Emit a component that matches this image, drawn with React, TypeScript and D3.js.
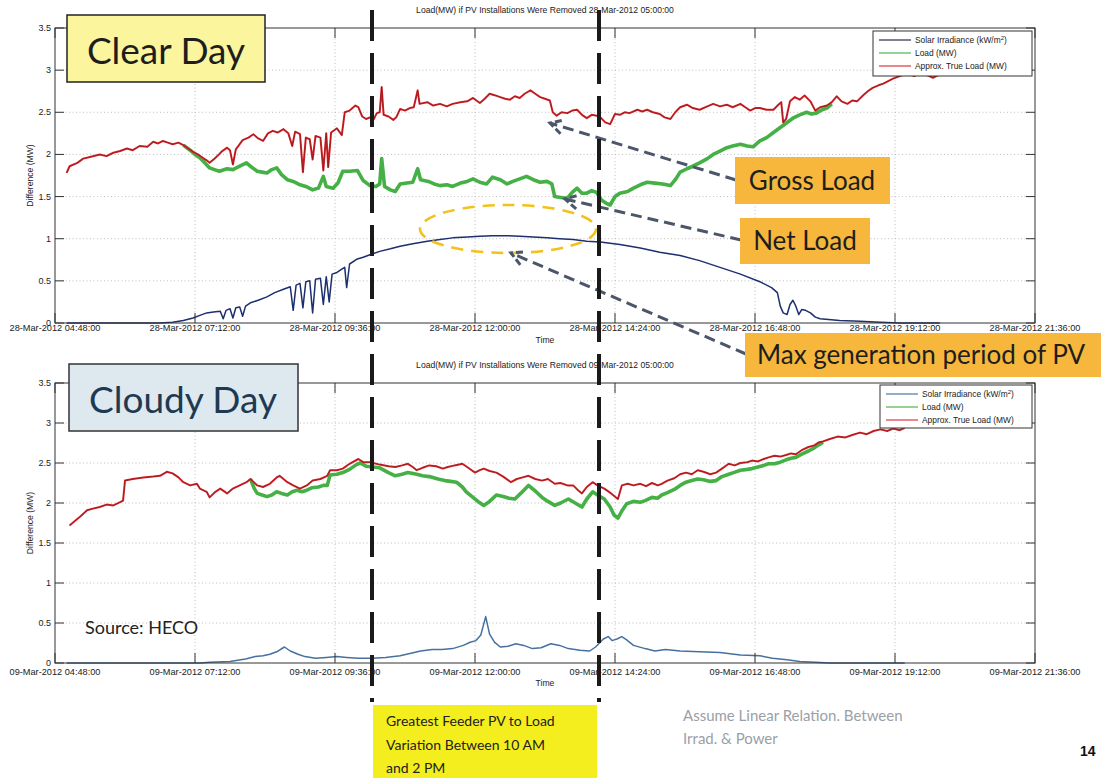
import React from 'react';
import * as d3 from 'd3';

// time = minutes since midnight, value = MW (or kW/m2)
const xTicks = [288, 432, 576, 720, 864, 1008, 1152, 1296];
const yTicks = [0, 0.5, 1, 1.5, 2, 2.5, 3, 3.5];
const legendLabels = ['Solar Irradiance (kW/m', 'Load (MW)', 'Approx. True Load (MW)'];

const clearTrueLoad: [number, number][] = [
  [300,1.78],[303,1.86],[311,1.9],[317,1.95],[324,1.97],[334,2.0],[341,1.98],[348,2.02],[355,2.04],[362,2.07],[368,2.05],[375,2.1],[383,2.09],[389,2.15],[394,2.13],[399,2.16],[404,2.14],[409,2.12],[415,2.14],[420,2.11],[425,2.07],[430,2.03],[435,2.0],[440,1.96],[444,1.93],[447,1.9],[452,1.95],[455,1.98],[460,2.04],[465,2.08],[468,2.05],[471,1.88],[474,2.06],[481,2.17],[487,2.2],[492,2.24],[497,2.19],[502,2.16],[507,2.25],[512,2.28],[517,2.26],[523,2.3],[528,2.25],[532,2.1],[535,2.27],[540,2.24],[543,1.79],[546,2.2],[550,2.18],[553,1.94],[556,2.22],[561,2.2],[564,1.81],[567,2.25],[569,1.85],[572,2.26],[578,2.31],[583,2.23],[586,2.5],[591,2.52],[597,2.58],[600,2.56],[604,2.45],[608,2.42],[612,2.44],[616,2.42],[619,2.49],[622,2.5],[624,2.8],[626,2.47],[631,2.45],[636,2.41],[639,2.44],[643,2.54],[648,2.52],[653,2.55],[657,2.56],[661,2.76],[663,2.6],[671,2.62],[677,2.58],[684,2.6],[691,2.57],[697,2.6],[705,2.62],[712,2.63],[718,2.67],[725,2.61],[730,2.66],[735,2.72],[741,2.7],[746,2.68],[751,2.66],[756,2.65],[761,2.69],[766,2.67],[771,2.72],[777,2.76],[782,2.72],[787,2.68],[792,2.66],[797,2.64],[800,2.5],[804,2.46],[809,2.5],[815,2.49],[820,2.52],[825,2.53],[830,2.47],[835,2.43],[840,2.47],[845,2.46],[849,2.44],[854,2.38],[859,2.36],[864,2.48],[869,2.47],[874,2.5],[879,2.49],[887,2.53],[892,2.51],[897,2.53],[903,2.5],[910,2.48],[915,2.44],[921,2.42],[926,2.5],[931,2.56],[938,2.59],[944,2.55],[951,2.53],[959,2.57],[965,2.6],[972,2.57],[979,2.59],[985,2.56],[993,2.6],[998,2.56],[1003,2.52],[1008,2.55],[1013,2.55],[1020,2.53],[1027,2.53],[1032,2.59],[1035,2.62],[1037,2.38],[1040,2.42],[1044,2.63],[1049,2.68],[1054,2.65],[1059,2.7],[1065,2.63],[1070,2.52],[1075,2.56],[1082,2.58],[1087,2.62],[1092,2.69],[1097,2.63],[1103,2.6],[1108,2.64],[1113,2.63],[1119,2.7],[1124,2.75],[1129,2.79],[1135,2.82],[1140,2.84],[1145,2.87],[1150,2.9],[1157,2.93],[1164,2.96],[1172,2.93],[1178,2.97],[1185,2.94],[1191,2.91],[1198,2.95],
];

const clearLoad: [number, number][] = [
  [420,2.11],[427,2.05],[432,2.0],[437,1.96],[442,1.9],[447,1.84],[452,1.82],[457,1.8],[465,1.83],[471,1.82],[478,1.86],[485,1.9],[490,1.85],[496,1.8],[501,1.79],[506,1.78],[511,1.82],[516,1.84],[521,1.76],[527,1.7],[533,1.68],[540,1.64],[546,1.62],[553,1.58],[559,1.6],[564,1.74],[567,1.62],[574,1.6],[579,1.66],[584,1.8],[591,1.8],[599,1.81],[605,1.69],[612,1.63],[618,1.62],[622,1.65],[624,1.95],[627,1.62],[633,1.58],[638,1.56],[643,1.65],[650,1.66],[656,1.67],[661,1.83],[664,1.7],[672,1.68],[678,1.65],[684,1.63],[691,1.64],[697,1.62],[705,1.66],[712,1.68],[718,1.71],[725,1.67],[732,1.65],[738,1.73],[746,1.7],[753,1.65],[759,1.68],[766,1.71],[773,1.74],[780,1.7],[787,1.67],[794,1.68],[799,1.65],[802,1.5],[808,1.49],[815,1.48],[820,1.55],[825,1.6],[830,1.54],[835,1.54],[840,1.57],[845,1.55],[850,1.46],[855,1.42],[859,1.4],[864,1.5],[869,1.54],[877,1.56],[883,1.6],[890,1.64],[897,1.67],[905,1.66],[913,1.65],[921,1.63],[926,1.7],[931,1.79],[938,1.83],[944,1.86],[951,1.9],[959,1.95],[965,2.0],[972,2.04],[979,2.08],[985,2.1],[993,2.12],[1000,2.1],[1006,2.09],[1013,2.16],[1020,2.2],[1027,2.26],[1034,2.32],[1040,2.37],[1047,2.43],[1054,2.47],[1061,2.5],[1066,2.48],[1071,2.49],[1077,2.53],[1082,2.55],[1087,2.6],
];

const clearIrradiance: [number, number][] = [
  [300,0],[355,0],[396,0],[409,0.01],[420,0.03],[430,0.06],[437,0.09],[444,0.12],[451,0.13],[458,0.14],[461,0.05],[464,0.15],[468,0.17],[471,0.06],[474,0.18],[478,0.19],[481,0.08],[484,0.2],[489,0.24],[497,0.27],[506,0.31],[514,0.36],[523,0.4],[530,0.43],[533,0.15],[536,0.45],[540,0.47],[543,0.18],[546,0.49],[550,0.5],[553,0.12],[556,0.52],[561,0.53],[564,0.22],[567,0.55],[570,0.25],[573,0.58],[578,0.6],[583,0.64],[586,0.66],[588,0.42],[591,0.7],[599,0.76],[605,0.78],[612,0.81],[622,0.85],[633,0.88],[643,0.91],[656,0.94],[671,0.97],[684,0.99],[697,1.01],[712,1.02],[725,1.03],[738,1.035],[753,1.035],[766,1.03],[780,1.02],[794,1.01],[807,1.0],[821,0.99],[835,0.97],[849,0.96],[869,0.93],[890,0.89],[910,0.84],[931,0.8],[951,0.74],[972,0.66],[993,0.58],[1013,0.49],[1025,0.42],[1031,0.36],[1034,0.2],[1037,0.12],[1041,0.1],[1044,0.22],[1047,0.27],[1050,0.2],[1053,0.1],[1056,0.16],[1060,0.15],[1065,0.12],[1070,0.07],[1075,0.05],[1095,0.03],[1116,0.02],[1137,0.01],[1157,0],[1198,0],
];

const cloudyTrueLoad: [number, number][] = [
  [303,1.72],[309,1.78],[314,1.83],[321,1.91],[327,1.93],[334,1.95],[341,1.98],[348,1.97],[355,2.01],[358,2.03],[360,2.28],[368,2.3],[379,2.32],[389,2.33],[396,2.34],[403,2.39],[409,2.37],[415,2.32],[420,2.26],[427,2.22],[434,2.24],[437,2.18],[444,2.14],[447,2.07],[453,2.14],[458,2.18],[465,2.12],[471,2.18],[478,2.22],[485,2.26],[489,2.3],[496,2.22],[502,2.2],[509,2.24],[516,2.32],[519,2.34],[527,2.26],[533,2.22],[540,2.18],[547,2.22],[553,2.28],[561,2.3],[568,2.34],[571,2.41],[578,2.41],[584,2.43],[591,2.49],[600,2.55],[605,2.51],[612,2.51],[622,2.48],[631,2.46],[638,2.45],[645,2.47],[651,2.49],[656,2.45],[660,2.41],[666,2.44],[673,2.47],[680,2.46],[687,2.43],[692,2.45],[699,2.47],[707,2.49],[713,2.44],[720,2.38],[725,2.41],[729,2.43],[735,2.4],[742,2.38],[749,2.33],[757,2.26],[763,2.3],[769,2.32],[775,2.34],[782,2.3],[789,2.28],[795,2.3],[802,2.24],[808,2.25],[815,2.22],[821,2.22],[826,2.16],[830,2.12],[835,2.2],[841,2.26],[846,2.22],[853,2.18],[860,2.12],[867,2.05],[871,2.22],[877,2.24],[883,2.22],[890,2.24],[896,2.21],[902,2.25],[908,2.22],[912,2.24],[918,2.28],[925,2.31],[931,2.36],[937,2.38],[943,2.36],[949,2.41],[955,2.39],[962,2.36],[968,2.38],[974,2.43],[981,2.49],[987,2.47],[993,2.5],[1000,2.51],[1005,2.53],[1011,2.52],[1017,2.55],[1022,2.57],[1028,2.59],[1034,2.58],[1040,2.6],[1045,2.62],[1050,2.61],[1056,2.66],[1063,2.7],[1069,2.72],[1074,2.76],[1078,2.77],[1085,2.8],[1093,2.83],[1101,2.82],[1108,2.85],[1116,2.88],[1123,2.86],[1130,2.9],[1137,2.92],[1144,2.9],[1150,2.93],[1157,2.91],[1162,2.94],
];

const cloudyLoad: [number, number][] = [
  [489,2.3],[493,2.18],[496,2.12],[501,2.1],[506,2.08],[511,2.1],[516,2.14],[521,2.12],[527,2.1],[532,2.14],[537,2.16],[542,2.14],[547,2.16],[552,2.19],[559,2.2],[564,2.22],[568,2.22],[571,2.35],[578,2.36],[584,2.38],[591,2.42],[598,2.48],[602,2.5],[608,2.46],[615,2.45],[622,2.44],[631,2.38],[638,2.34],[645,2.36],[651,2.38],[660,2.36],[666,2.34],[673,2.33],[682,2.3],[689,2.28],[695,2.27],[701,2.26],[707,2.2],[711,2.14],[717,2.08],[723,2.02],[729,1.97],[735,2.02],[742,2.1],[749,2.08],[755,2.06],[761,2.05],[767,2.12],[775,2.22],[782,2.15],[789,2.07],[795,2.02],[802,1.97],[808,2.0],[816,2.05],[823,2.0],[830,1.95],[835,2.05],[841,2.14],[846,2.1],[853,2.05],[859,1.95],[863,1.85],[867,1.81],[871,1.9],[876,1.99],[883,2.02],[890,2.01],[895,2.03],[902,2.07],[908,2.06],[912,2.1],[918,2.13],[925,2.17],[931,2.22],[937,2.26],[943,2.28],[949,2.3],[955,2.29],[962,2.27],[968,2.28],[974,2.33],[981,2.36],[986,2.38],[993,2.41],[1000,2.42],[1005,2.43],[1011,2.45],[1017,2.47],[1022,2.49],[1028,2.49],[1034,2.51],[1040,2.54],[1045,2.56],[1050,2.57],[1056,2.61],[1063,2.65],[1069,2.69],[1074,2.73],[1078,2.76],
];

const cloudyIrradiance: [number, number][] = [
  [300,0],[437,0],[447,0.01],[468,0.02],[484,0.05],[494,0.08],[502,0.09],[509,0.11],[516,0.14],[524,0.2],[530,0.15],[538,0.11],[545,0.08],[556,0.06],[567,0.07],[578,0.08],[588,0.07],[600,0.06],[614,0.06],[628,0.07],[643,0.09],[653,0.12],[664,0.15],[676,0.17],[686,0.17],[697,0.18],[708,0.22],[715,0.26],[721,0.28],[726,0.35],[731,0.58],[735,0.36],[740,0.26],[746,0.2],[754,0.21],[762,0.24],[770,0.22],[779,0.18],[788,0.19],[798,0.24],[807,0.22],[816,0.18],[828,0.16],[838,0.15],[844,0.2],[852,0.3],[857,0.33],[861,0.28],[866,0.3],[871,0.33],[876,0.29],[883,0.22],[895,0.18],[905,0.15],[916,0.17],[931,0.15],[951,0.14],[972,0.13],[993,0.1],[1013,0.09],[1026,0.06],[1041,0.04],[1054,0.02],[1070,0.01],[1085,0],[1162,0],
];

const FONT = '"Liberation Sans", Arial, sans-serif';
const CAL = 'Lato, "Open Sans", sans-serif';

type Pt = [number, number];

function fmtTime(m: number) {
  const h = Math.floor(m / 60);
  const mm = m % 60;
  return `${String(h).padStart(2, '0')}:${String(mm).padStart(2, '0')}:00`;
}

function Panel(props: {
  top: number; bottom: number; date: string; titleDate: string; labelOff: number; timeOff: number;
  irr: Pt[]; load: Pt[]; trueLoad: Pt[]; irrColor: string; irrLegendColor: string;
  legend: { x0: number; x1: number; y0: number; y1: number };
}) {
  const { top, bottom, date, titleDate, labelOff, timeOff, irr, load, trueLoad, irrColor, irrLegendColor, legend } = props;
  const left = 55, right = 1035;
  const x = d3.scaleLinear().domain([288, 1296]).range([left, right]);
  const y = d3.scaleLinear().domain([0, 3.5]).range([bottom, top]);
  const line = d3.line<Pt>().x(d => x(d[0])).y(d => y(d[1]));
  const legendColors = [irrLegendColor, '#3fae3f', '#d8262b'];
  const ly = [legend.y0 + 9, legend.y0 + 22, legend.y0 + 35];
  return (
    <g>
      <text x={545} y={top - 15} fontFamily={FONT} fontSize={8.6} fill="#222" textAnchor="middle">
        {`Load(MW) if PV Installations Were Removed ${titleDate} 05:00:00`}
      </text>
      {xTicks.slice(1, -1).map(t => (
        <line key={'gx' + t} x1={x(t)} x2={x(t)} y1={top} y2={bottom} stroke="#b8b8b8" strokeWidth={0.9} strokeDasharray="1 2.5" />
      ))}
      {yTicks.slice(1, -1).map(t => (
        <line key={'gy' + t} x1={left} x2={right} y1={y(t)} y2={y(t)} stroke="#b8b8b8" strokeWidth={0.9} strokeDasharray="1 2.5" />
      ))}
      <path d={line(load) || ''} fill="none" stroke="#45b045" strokeWidth={3.6} strokeLinejoin="round" />
      <path d={line(trueLoad) || ''} fill="none" stroke="#d8262b" strokeWidth={2} strokeLinejoin="round" />
      <path d={line(trueLoad) || ''} fill="none" stroke="#3a0808" strokeWidth={0.6} strokeOpacity={0.55} />
      <path d={line(irr) || ''} fill="none" stroke={irrColor} strokeWidth={1.5} strokeLinejoin="round" />
      <rect x={left} y={top} width={right - left} height={bottom - top} fill="none" stroke="#333" strokeWidth={1} />
      {xTicks.map(t => (
        <g key={'xt' + t}>
          <line x1={x(t)} x2={x(t)} y1={bottom} y2={bottom - 10} stroke="#333" />
          <line x1={x(t)} x2={x(t)} y1={top} y2={top + 10} stroke="#333" />
          <text x={x(t)} y={bottom + labelOff} fontFamily={FONT} fontSize={9.2} fill="#222" textAnchor="middle">
            {`${date} ${fmtTime(t)}`}
          </text>
        </g>
      ))}
      {yTicks.map(t => (
        <g key={'yt' + t}>
          <line x1={left} x2={left + 9} y1={y(t)} y2={y(t)} stroke="#333" />
          <line x1={right} x2={right - 9} y1={y(t)} y2={y(t)} stroke="#333" />
          <text x={left - 4} y={y(t) + 3} fontFamily={FONT} fontSize={9} fill="#222" textAnchor="end">{String(t)}</text>
        </g>
      ))}
      <text x={545} y={bottom + timeOff} fontFamily={FONT} fontSize={8.6} fill="#222" textAnchor="middle">Time</text>
      <text transform={`translate(33,${(top + bottom) / 2}) rotate(-90)`} fontFamily={FONT} fontSize={8.6} fill="#222" textAnchor="middle">Difference (MW)</text>
      <rect x={legend.x0} y={legend.y0} width={legend.x1 - legend.x0} height={legend.y1 - legend.y0} fill="#fff" stroke="#333" strokeWidth={1} />
      {legendLabels.map((lab, i) => (
        <g key={lab}>
          <line x1={legend.x0 + 6} x2={legend.x0 + 38} y1={ly[i]} y2={ly[i]} stroke={legendColors[i]} strokeWidth={1.1} />
          <text x={legend.x0 + 42} y={ly[i] + 3} fontFamily={FONT} fontSize={8.4} fill="#222">
            {lab}
            {i === 0 ? (<><tspan dy={-3} fontSize={6}>2</tspan><tspan dy={3}>)</tspan></>) : null}
          </text>
        </g>
      ))}
    </g>
  );
}

function Arrow({ x0, y0, x1, y1 }: { x0: number; y0: number; x1: number; y1: number }) {
  const ang = Math.atan2(y0 - y1, x0 - x1);
  const L = 15, a = 0.5;
  const p1 = [x1 + L * Math.cos(ang + a), y1 + L * Math.sin(ang + a)];
  const p2 = [x1 + L * Math.cos(ang - a), y1 + L * Math.sin(ang - a)];
  return (
    <g stroke="#4b5668" strokeWidth={3} fill="none">
      <line x1={x0} y1={y0} x2={x1} y2={y1} strokeDasharray="11 6" />
      <polyline points={`${p1[0]},${p1[1]} ${x1},${y1} ${p2[0]},${p2[1]}`} strokeDasharray="7 3" />
    </g>
  );
}

export default function App() {
  return (
    <svg width={1101} height={780} style={{ position: 'absolute', left: 0, top: 0, background: '#fff' }}>
      <rect x={0} y={0} width={1101} height={780} fill="#fff" />
      <Panel top={28} bottom={323} date="28-Mar-2012" titleDate="28-Mar-2012" labelOff={8} timeOff={20}
        irr={clearIrradiance} load={clearLoad} trueLoad={clearTrueLoad}
        irrColor="#1d2f6e" irrLegendColor="#1a1a2e"
        legend={{ x0: 873, x1: 1032, y0: 31, y1: 76 }} />
      <Panel top={383} bottom={663} date="09-Mar-2012" titleDate="09-Mar-2012" labelOff={12} timeOff={23}
        irr={cloudyIrradiance} load={cloudyLoad} trueLoad={cloudyTrueLoad}
        irrColor="#46709f" irrLegendColor="#3d6aa0"
        legend={{ x0: 880, x1: 1032, y0: 385, y1: 428 }} />

      <rect x={67} y={15} width={198} height={67} fill="#fbf59e" stroke="#222" strokeWidth={1.5} />
      <text x={166} y={64} fontFamily={CAL} fontSize={37} fill="#1e1e1e" textAnchor="middle">Clear Day</text>
      <rect x={69} y={364} width={229} height={67} fill="#dee8ef" stroke="#333" strokeWidth={1.5} />
      <text x={183} y={413} fontFamily={CAL} fontSize={37} fill="#1e3a52" textAnchor="middle">Cloudy Day</text>

      <text x={85} y={634} fontFamily={CAL} fontSize={18} fill="#222">Source: HECO</text>

      <ellipse cx={508} cy={229} rx={88} ry={24} fill="none" stroke="#f2c21b" strokeWidth={2.6} strokeDasharray="12 8" />

      <Arrow x0={736} y0={180} x1={550} y1={123} />
      <Arrow x0={741} y0={240} x1={565} y1={199} />
      <Arrow x0={746} y0={354} x1={511} y1={253} />

      <rect x={735} y={157} width={155} height={47} fill="#f6b73c" />
      <text x={812} y={190} fontFamily={CAL} fontSize={26} fill="#1e1e1e" textAnchor="middle">Gross Load</text>
      <rect x={740} y={218} width={130} height={46} fill="#f6b73c" />
      <text x={805} y={250} fontFamily={CAL} fontSize={26} fill="#1e1e1e" textAnchor="middle">Net Load</text>
      <rect x={745} y={333} width={356} height={44} fill="#f6b73c" />
      <text x={757} y={364} fontFamily={CAL} fontSize={26} fill="#1e1e1e">Max generation period of PV</text>

      <line x1={372} x2={372} y1={10} y2={702} stroke="#1a1a1a" strokeWidth={4} strokeDasharray="31 12" />
      <line x1={599} x2={599} y1={10} y2={702} stroke="#1a1a1a" strokeWidth={4} strokeDasharray="31 12" />

      <rect x={373} y={705} width={224} height={73} fill="#f5ee1e" />
      <text fontFamily={CAL} fontSize={14} fill="#222">
        <tspan x={386} y={726}>Greatest Feeder PV to Load</tspan>
        <tspan x={386} y={750}>Variation Between 10 AM</tspan>
        <tspan x={386} y={773}>and 2 PM</tspan>
      </text>
      <text fontFamily={CAL} fontSize={15} fill="#9aa0a8">
        <tspan x={683} y={721}>Assume Linear Relation. Between</tspan>
        <tspan x={683} y={744}>Irrad. &amp; Power</tspan>
      </text>
      <text x={1080} y={756} fontFamily={FONT} fontSize={14} fontWeight="bold" fill="#111">14</text>
    </svg>
  );
}
